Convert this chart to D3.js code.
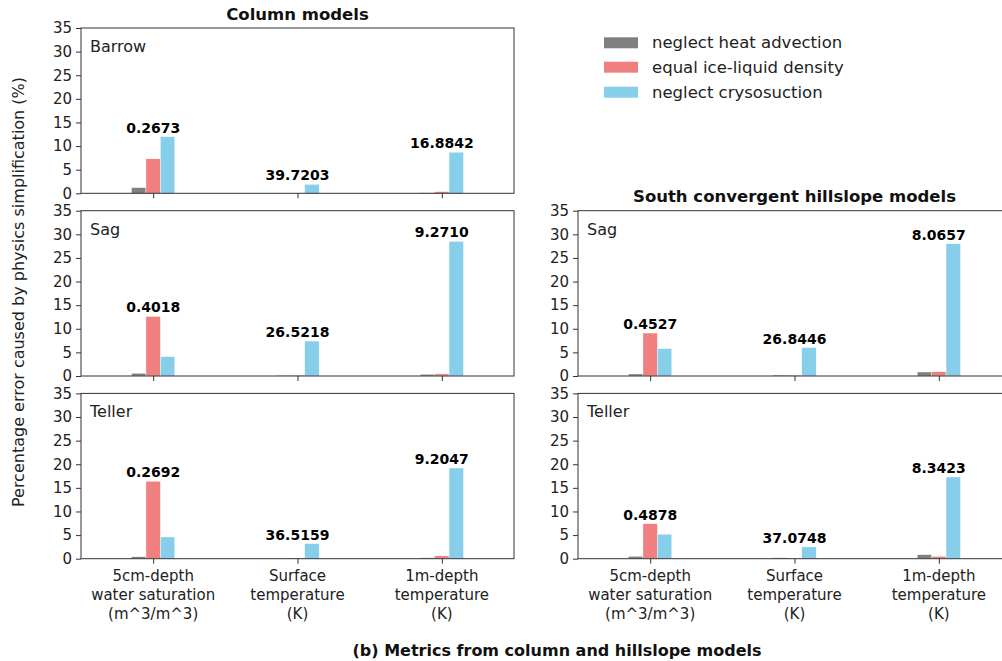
<!DOCTYPE html>
<html><head><meta charset="utf-8">
<script src="https://cdn.jsdelivr.net/npm/d3@7"></script>
<style>
body{margin:0;background:#fff;}
svg{display:block;font-family:"DejaVu Sans",sans-serif;}
</style></head>
<body>
<svg id="chart" width="1002" height="661"></svg>
<script>
const categories = [["5cm-depth","water saturation","(m^3/m^3)"],["Surface","temperature","(K)"],["1m-depth","temperature","(K)"]];
const seriesNames = ["neglect heat advection","equal ice-liquid density","neglect crysosuction"];
const seriesColors = ["#808080","#F08080","#87CEEB"];
const yTicks = [0,5,10,15,20,25,30,35];

// values per series: [advection, density, crysosuction] each over 3 categories
const barrowColumn = [[1.2,0.05,0.1],[7.3,0.05,0.35],[12.0,1.9,8.7]];
const barrowColumnLabels = ["0.2673","39.7203","16.8842"];
const sagColumn = [[0.58,0.15,0.36],[12.6,0.2,0.45],[4.1,7.4,28.5]];
const sagColumnLabels = ["0.4018","26.5218","9.2710"];
const tellerColumn = [[0.4,0.05,0.2],[16.4,0.15,0.6],[4.6,3.2,19.2]];
const tellerColumnLabels = ["0.2692","36.5159","9.2047"];
const sagHillslope = [[0.43,0.2,0.85],[9.1,0.2,0.9],[5.8,6.0,28.0]];
const sagHillslopeLabels = ["0.4527","26.8446","8.0657"];
const tellerHillslope = [[0.5,0.2,0.85],[7.4,0.05,0.5],[5.2,2.5,17.3]];
const tellerHillslopeLabels = ["0.4878","37.0748","8.3423"];

const svg = d3.select("#chart");
const W = 433, H = 165.3;
const leftX = 81, rightX = 578;
const rowsY = [28, 210.7, 393.4];

const panels = [
  {x:leftX, y:rowsY[0], name:"Barrow", data:barrowColumn, labels:barrowColumnLabels, xlabels:false},
  {x:leftX, y:rowsY[1], name:"Sag", data:sagColumn, labels:sagColumnLabels, xlabels:false},
  {x:leftX, y:rowsY[2], name:"Teller", data:tellerColumn, labels:tellerColumnLabels, xlabels:true},
  {x:rightX, y:rowsY[1], name:"Sag", data:sagHillslope, labels:sagHillslopeLabels, xlabels:false},
  {x:rightX, y:rowsY[2], name:"Teller", data:tellerHillslope, labels:tellerHillslopeLabels, xlabels:true}
];

const barW = 0.1;
panels.forEach(p => {
  const g = svg.append("g").attr("transform", `translate(${p.x},${p.y})`);
  const x = d3.scaleLinear().domain([-0.5, 2.5]).range([0, W]);
  const y = d3.scaleLinear().domain([0, 35]).range([H, 0]);
  // bars
  p.data.forEach((vals, si) => {
    g.selectAll(null).data(vals).enter().append("rect")
      .attr("x", (d,i) => x(i + (si-1)*barW - barW/2))
      .attr("width", x(barW) - x(0))
      .attr("y", d => y(d))
      .attr("height", d => y(0) - y(d))
      .attr("fill", seriesColors[si])
      .attr("stroke", "#fff").attr("stroke-width", 0.4);
  });
  // value labels
  g.selectAll(null).data(p.labels).enter().append("text")
    .attr("x", (d,i) => x(i))
    .attr("y", (d,i) => y(d3.max(p.data, s => s[i])) - 4)
    .attr("text-anchor","middle")
    .attr("font-weight","bold").attr("font-size","14px").attr("fill","#000")
    .text(d => d);
  // frame
  g.append("rect").attr("x",0).attr("y",0).attr("width",W).attr("height",H)
    .attr("fill","none").attr("stroke","#333").attr("stroke-width",1);
  // y axis
  const ya = g.append("g").call(d3.axisLeft(y).tickValues(yTicks).tickSize(5).tickPadding(4));
  ya.select(".domain").remove();
  ya.selectAll("line").attr("stroke","#333");
  ya.selectAll("text").attr("font-size","15px").attr("fill","#222").attr("font-family","DejaVu Sans");
  // x axis
  const xa = g.append("g").attr("transform",`translate(0,${H})`)
    .call(d3.axisBottom(x).tickValues([0,1,2]).tickSize(5).tickFormat(""));
  xa.select(".domain").remove();
  xa.selectAll("line").attr("stroke","#333");
  if (p.xlabels) {
    categories.forEach((lines, i) => {
      const t = g.append("text").attr("x", x(i)).attr("y", H + 22)
        .attr("text-anchor","middle").attr("font-size","15px").attr("fill","#222");
      lines.forEach((ln, k) => t.append("tspan").attr("x", x(i)).attr("dy", k===0?0:19).text(ln));
    });
  }
  // panel name
  g.append("text").attr("x", 9).attr("y", 24).attr("font-size","16px").attr("fill","#222").text(p.name);
});

// titles
svg.append("text").attr("x", leftX + W/2).attr("y", 20).attr("text-anchor","middle")
  .attr("font-weight","bold").attr("font-size","16.5px").attr("fill","#111").text("Column models");
svg.append("text").attr("x", rightX + W/2).attr("y", 202).attr("text-anchor","middle")
  .attr("font-weight","bold").attr("font-size","16.5px").attr("fill","#111").text("South convergent hillslope models");
svg.append("text").attr("transform","translate(24,292) rotate(-90)").attr("text-anchor","middle")
  .attr("font-size","16px").attr("fill","#222").text("Percentage error caused by physics simplification (%)");
svg.append("text").attr("x", 557).attr("y", 656).attr("text-anchor","middle")
  .attr("font-weight","bold").attr("font-size","16px").attr("fill","#111").text("(b) Metrics from column and hillslope models");

// legend
const leg = svg.append("g").attr("transform","translate(604,0)");
const legY = [42.8, 67.2, 92.2];
seriesNames.forEach((n,i) => {
  leg.append("rect").attr("x",0).attr("y",legY[i]-5.5).attr("width",34).attr("height",11).attr("fill",seriesColors[i]);
  leg.append("text").attr("x",48).attr("y",legY[i]+5.5).attr("font-size","16.5px").attr("fill","#222").text(n);
});
</script>
</body></html>
